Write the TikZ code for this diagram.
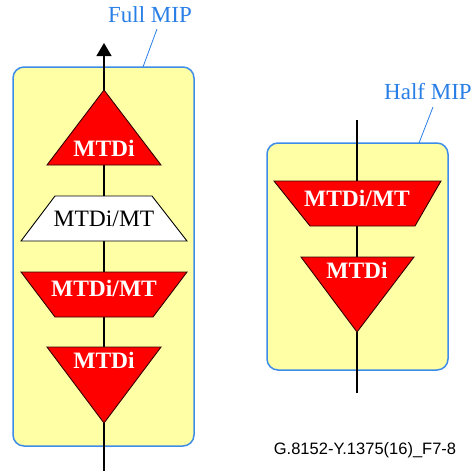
\documentclass[tikz,border=0pt]{standalone}
\usepackage{fontspec}
\setmainfont{Liberation Serif}
\newfontfamily\footfont{Liberation Sans}
\usetikzlibrary{arrows.meta}
\definecolor{mipyellow}{HTML}{FFFFA6}
\definecolor{mipblue}{HTML}{3C8CE8}
\definecolor{labelblue}{HTML}{2A7FE6}
\definecolor{mtdred}{HTML}{FF0000}
\tikzset{
  mipbox/.style={draw=mipblue, line width=1.5pt, fill=mipyellow, rounded corners=11pt},
  redshape/.style={fill=mtdred, draw=black!80!red, line width=0.9pt, line join=miter},
  whiteshape/.style={fill=white, draw=black, line width=0.9pt, line join=miter},
  flowline/.style={draw=black, line width=1.3pt},
  leader/.style={draw=labelblue, line width=0.8pt},
  redtext/.style={font=\fontsize{23.5}{26}\selectfont\bfseries, text=white, inner sep=0pt},
  blacktext/.style={font=\fontsize{23.5}{26}\selectfont, text=black, inner sep=0pt},
  miplabel/.style={font=\fontsize{23}{26}\selectfont, text=labelblue, inner sep=0pt},
}
\begin{document}
\begin{tikzpicture}[x=1pt,y=-1pt]
\useasboundingbox (0,0) rectangle (476,472);
% boxes
\path[mipbox] (13,67) rectangle (194,446);
\path[mipbox] (267,143) rectangle (448,370);

% ---------- Full MIP ----------
\coordinate (Ltip) at (104,43);
\coordinate (Lend) at (104,471);
\coordinate (T1top) at (104,90);
\coordinate (T1bot) at (104,165);
\coordinate (W1top) at (104,196);
\coordinate (W1bot) at (104,241);
\coordinate (R1top) at (104,272);
\coordinate (R1bot) at (104,317);
\coordinate (T2top) at (104,347);
\coordinate (T2bot) at (104,423);

\draw[flowline, -{Triangle[length=13pt,width=15pt]}] (T1top) -- (Ltip);
\draw[flowline] (T1bot) -- (W1top);
\draw[flowline] (W1bot) -- (R1top);
\draw[flowline] (R1bot) -- (T2top);
\draw[flowline] (T2bot) -- (Lend);

\path[redshape] (104,90) -- (161,165) -- (47,165) -- cycle;
\path[whiteshape] (55,196) -- (152,196) -- (187,241) -- (21,241) -- cycle;
\path[redshape] (21,272) -- (187,272) -- (153,317) -- (55,317) -- cycle;
\path[redshape] (47,347) -- (161,347) -- (104,423) -- cycle;

\node[redtext] (t1) at (104,148) {MTDi};
\node[blacktext] (w1) at (104,218.5) {MTDi/MT};
\node[redtext] (r1) at (104,288.5) {MTDi/MT};
\node[redtext] (t2) at (104,360) {MTDi};

\node[miplabel] (full) at (150,15) {Full MIP};
\coordinate (fullA) at (157,29);
\coordinate (fullB) at (143,67);
\draw[leader] (fullA) -- (fullB);

% ---------- Half MIP ----------
\coordinate (Rstart) at (357,120);
\coordinate (Rend) at (357,393);
\coordinate (R2top) at (357,181);
\coordinate (R2bot) at (357,226);
\coordinate (T3top) at (357,257);
\coordinate (T3bot) at (357,332);

\draw[flowline] (Rstart) -- (R2top);
\draw[flowline] (R2bot) -- (T3top);
\draw[flowline] (T3bot) -- (Rend);

\path[redshape] (274,181) -- (441,181) -- (415,226) -- (310,226) -- cycle;
\path[redshape] (301,257) -- (414,257) -- (357,332) -- cycle;

\node[redtext] (r2) at (357,198) {MTDi/MT};
\node[redtext] (t3) at (357,270) {MTDi};

\node[miplabel] (half) at (428,92) {Half MIP};
\coordinate (halfA) at (433,107);
\coordinate (halfB) at (419,143);
\draw[leader] (halfA) -- (halfB);

% footer
\node[font=\footfont\fontsize{16.5}{18}\selectfont, inner sep=0pt] (foot) at (365,450) {G.8152-Y.1375(16)\_F7-8};
\end{tikzpicture}
\end{document}
